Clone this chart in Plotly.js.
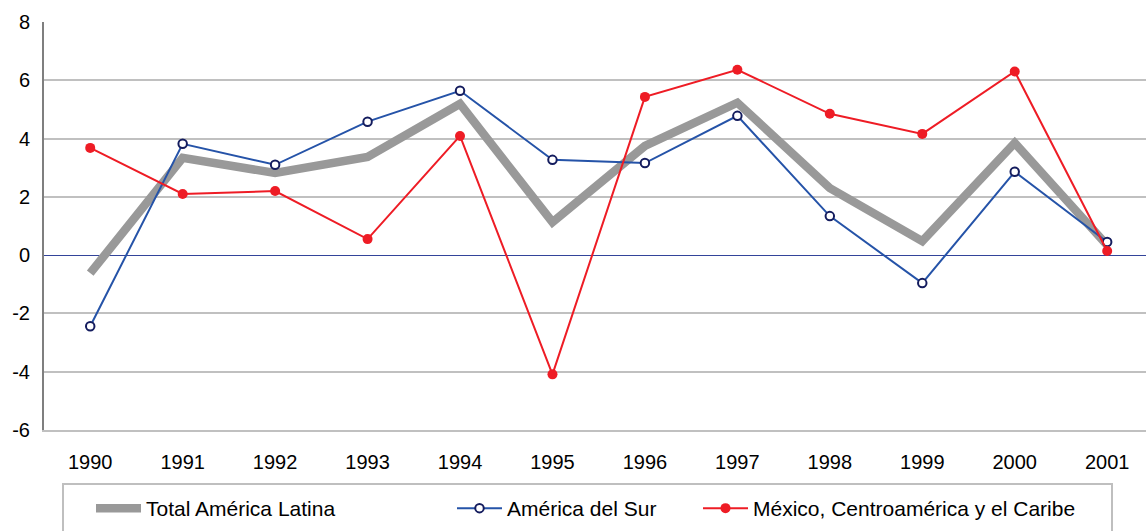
<!DOCTYPE html>
<html>
<head>
<meta charset="utf-8">
<script src="https://cdn.plot.ly/plotly-3.0.1.min.js"></script>
<style>html,body{margin:0;padding:0;background:#fff;}#chart{width:1146px;height:531px;}</style>
</head>
<body>
<div id="chart"></div>
<script>
const years = ["1990","1991","1992","1993","1994","1995","1996","1997","1998","1999","2000","2001"];
const totalAL = [-0.62, 3.34, 2.82, 3.37, 5.19, 1.13, 3.75, 5.23, 2.3, 0.48, 3.85, 0.34];
const surAmerica = [-2.44, 3.82, 3.1, 4.58, 5.64, 3.27, 3.16, 4.78, 1.34, -0.96, 2.86, 0.45];
const mexCentroCaribe = [3.68, 2.1, 2.2, 0.55, 4.09, -4.09, 5.43, 6.36, 4.85, 4.16, 6.3, 0.14];
const seriesNames = ["Total América Latina", "América del Sur", "México, Centroamérica y el Caribe"];
const yTicks = [-6, -4, -2, 0, 2, 4, 6, 8];
const yTickText = ["-6", "-4", "-2", "0", "2", "4", "6", "8"];

const font = "Liberation Sans, Arial, sans-serif";
const W = 1102, L = 44;
const px = v => (v - L) / W;
const traces = [
  {x: years, y: totalAL, name: seriesNames[0], type: "scatter", mode: "lines", legend: "legend",
   line: {color: "#999999", width: 8.5}},
  {x: years, y: surAmerica, name: seriesNames[1], type: "scatter", mode: "lines+markers", legend: "legend2",
   line: {color: "#2553a8", width: 2},
   marker: {symbol: "circle", size: 8.5, color: "#ffffff", line: {color: "#141c5e", width: 2}}},
  {x: years, y: mexCentroCaribe, name: seriesNames[2], type: "scatter", mode: "lines+markers", legend: "legend3",
   line: {color: "#ee1c25", width: 2},
   marker: {symbol: "circle", size: 10, color: "#ee1c25"}}
];
const legendBase = {orientation: "h", xanchor: "left", y: (430-488)/408, yanchor: "top", itemwidth: 45,
  bgcolor: "rgba(0,0,0,0)", borderwidth: 0, font: {family: font, size: 21, color: "#000"}};
const layout = {
  width: 1146, height: 531,
  margin: {l: 44, r: 0, t: 22, b: 101, pad: 0},
  paper_bgcolor: "#ffffff", plot_bgcolor: "#ffffff",
  font: {family: font, size: 20, color: "#000000"},
  showlegend: true,
  legend: Object.assign({}, legendBase, {x: px(91)}),
  legend2: Object.assign({}, legendBase, {x: px(452)}),
  legend3: Object.assign({}, legendBase, {x: px(698)}),
  xaxis: {type: "category", range: [-0.5, 11.42], showgrid: false, zeroline: false,
          showline: true, linecolor: "#c0c0c0", linewidth: 2, ticks: "", ticklabelstandoff: 13,
          tickfont: {size: 20}, fixedrange: true},
  yaxis: {range: [-6, 8], tickvals: yTicks, ticktext: yTickText, showgrid: true, gridcolor: "#c0c0c0", gridwidth: 2,
          zeroline: true, zerolinecolor: "#33449a", zerolinewidth: 1,
          showline: true, linecolor: "#7f7f7f", linewidth: 2, ticks: "",
          ticklabelstandoff: 8, tickfont: {size: 20}, fixedrange: true},
  shapes: [
    {type: "rect", xref: "paper", yref: "paper", x0: px(63), x1: px(1112),
     y0: (430-484)/408, y1: (430-545)/408, line: {color: "#bfbfbf", width: 2}, fillcolor: "rgba(0,0,0,0)", layer: "below"}
  ]
};
Plotly.newPlot("chart", traces, layout, {displayModeBar: false, staticPlot: true});
</script>
</body>
</html>
